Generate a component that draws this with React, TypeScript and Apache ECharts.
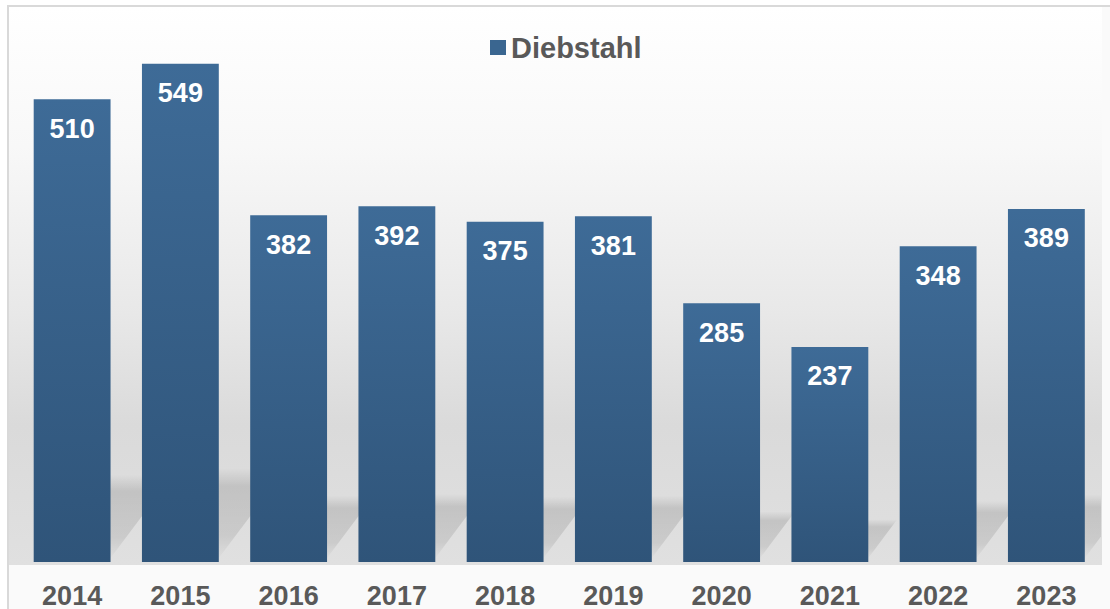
import React, { useEffect, useRef } from "react";
import * as echarts from "echarts";

const categories = ["2014", "2015", "2016", "2017", "2018", "2019", "2020", "2021", "2022", "2023"];
const theftValues = [510, 549, 382, 392, 375, 381, 285, 237, 348, 389];
const seriesName = "Diebstahl";

export default function App() {
  const ref = useRef<HTMLDivElement>(null);
  useEffect(() => {
    if (!ref.current) return;
    const chart = echarts.init(ref.current, null, { renderer: "svg" });
    const barGrad = new echarts.graphic.LinearGradient(0, 0, 0, 1, [
      { offset: 0, color: "#3e6b97" },
      { offset: 1, color: "#2f5479" },
    ]);
    const font = "'Liberation Sans', Arial, sans-serif";
    chart.setOption({
      animation: false,
      backgroundColor: "#ffffff",
      graphic: [
        {
          type: "rect",
          z: -20,
          silent: true,
          shape: { x: 8, y: 6, width: 1200, height: 700 },
          style: { fill: "#fafafa", stroke: "#d9d9d9", lineWidth: 2 },
        },
        {
          type: "rect",
          z: -19,
          silent: true,
          shape: { x: 9, y: 7, width: 1093, height: 558 },
          style: {
            fill: new echarts.graphic.LinearGradient(0, 0, 0, 1, [
              { offset: 0, color: "#ffffff" },
              { offset: 0.25, color: "#f8f8f8" },
              { offset: 0.55, color: "#e8e8e8" },
              { offset: 0.75, color: "#dadada" },
              { offset: 1, color: "#e0e0e0" },
            ]),
          },
        },
      ],
      legend: {
        show: true,
        left: 485,
        top: 28,
        itemWidth: 16,
        itemHeight: 15,
        itemGap: 10,
        icon: "rect",
        textStyle: { color: "#595959", fontSize: 29, fontWeight: "bold", fontFamily: font },
        data: [{ name: seriesName, itemStyle: { color: "#3a6690" } }],
      },
      grid: { left: 18, right: 9.5, top: 17.5, bottom: 46 },
      xAxis: {
        type: "category",
        data: categories,
        axisLine: { show: false },
        axisTick: { show: false },
        axisLabel: {
          color: "#595959",
          fontSize: 27,
          fontWeight: "bold",
          fontFamily: font,
          margin: 20,
        },
      },
      yAxis: {
        type: "value",
        min: 0,
        max: 600,
        show: false,
        splitLine: { show: false },
      },
      series: [
        {
          type: "custom",
          name: "shadow",
          z: 1,
          silent: true,
          clip: true,
          data: theftValues.map((v, i) => [i, v]),
          encode: { x: 0, y: 1 },
          renderItem: (params: any, api: any) => {
            const i = api.value(0);
            const v = api.value(1);
            const base = api.coord([i, 0]);
            const top = api.coord([i, v]);
            const bw = api.size([1, 0])[0] * 0.71;
            const barH = base[1] - top[1];
            const h = barH * 0.18;
            const d = h * 0.75;
            const x0 = base[0] - bw / 2;
            const x1 = base[0] + bw / 2;
            const y0 = base[1] - 4;
            return {
              type: "polygon",
              shape: {
                points: [
                  [x0, y0],
                  [x1, y0],
                  [x1 + d, y0 - h],
                  [x0 + d, y0 - h],
                ],
              },
              style: {
                fill: new echarts.graphic.LinearGradient(0, 0, 0, 1, [
                  { offset: 0, color: "rgba(0,0,0,0)" },
                  { offset: 0.2, color: "rgba(0,0,0,0.12)" },
                  { offset: 0.75, color: "rgba(0,0,0,0.09)" },
                  { offset: 1, color: "rgba(0,0,0,0.01)" },
                ]),
              },
            };
          },
        },
        {
          type: "bar",
          name: seriesName,
          z: 2,
          data: theftValues,
          barCategoryGap: "29%",
          itemStyle: { color: barGrad },
          label: {
            show: true,
            position: "insideTop",
            distance: 16,
            color: "#ffffff",
            fontSize: 27,
            fontWeight: "bold",
            fontFamily: font,
          },
        },
      ],
    });
    return () => chart.dispose();
  }, []);
  return (
    <div
      ref={ref}
      style={{ position: "fixed", left: 0, top: 0, width: 1110, height: 609 }}
    />
  );
}
